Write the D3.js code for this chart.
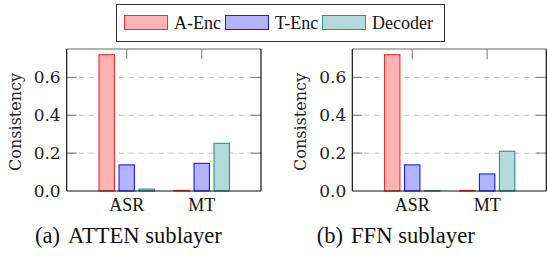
<!DOCTYPE html>
<html>
<head>
<meta charset="utf-8">
<script src="https://cdn.jsdelivr.net/npm/d3@7"></script>
<style>
  html, body { margin: 0; padding: 0; background: #fff; }
  svg { display: block; }
</style>
</head>
<body>
<div id="chart"></div>
<script>
(() => {
  'use strict';

  // ── Data ──
  const categories = ['ASR', 'MT'];
  const seriesNames = ['A-Enc', 'T-Enc', 'Decoder'];
  const attenAEnc    = [0.72, 0.003];
  const attenTEnc    = [0.138, 0.146];
  const attenDecoder = [0.01, 0.252];
  const ffnAEnc      = [0.72, 0.003];
  const ffnTEnc      = [0.138, 0.09];
  const ffnDecoder   = [0.002, 0.21];
  const yTicks = [0, 0.2, 0.4, 0.6];
  const captions = [['(a)', 'ATTEN sublayer'], ['(b)', 'FFN sublayer']];

  const fills   = ['#ffb3b3', '#b3b3ff', '#b3d9d9'];
  const strokes = ['#ff2a2a', '#1a1aff', '#2a9090'];

  const TIMES = "'Liberation Serif', 'Times New Roman', Tinos, serif";
  const CM    = "'DejaVu Serif', 'Bitstream Vera Serif', serif";

  const W = 547, H = 260;
  const svg = d3.select('#chart').append('svg')
    .attr('width', W).attr('height', H);

  // ── Legend ──
  const legend = svg.append('g');
  legend.append('rect')
    .attr('x', 116.5).attr('y', 4.5).attr('width', 328).attr('height', 37)
    .attr('fill', '#fff').attr('stroke', '#333').attr('stroke-width', 1);
  const legendX = [124, 225, 322];
  seriesNames.forEach((name, i) => {
    legend.append('rect')
      .attr('x', legendX[i] + 0.5).attr('y', 15.5).attr('width', 43).attr('height', 14)
      .attr('fill', fills[i]).attr('stroke', strokes[i]).attr('stroke-width', 1);
    legend.append('text')
      .style('font-family', TIMES).style('font-size', '18px').attr('fill', '#111')
      .attr('x', legendX[i] + 50).attr('y', 28.5)
      .text(name);
  });

  // ── Panels ──
  const panels = [
    { x0: 66.7, x1: 261, data: [attenAEnc, attenTEnc, attenDecoder], cap: captions[0], capX: 35 },
    { x0: 352.3, x1: 546.3, data: [ffnAEnc, ffnTEnc, ffnDecoder], cap: captions[1], capX: 316.7 }
  ];
  const top = 49, bottom = 191;

  panels.forEach(p => {
    const g = svg.append('g');
    const x = d3.scaleLinear().domain([-0.8, 1.79]).range([p.x0, p.x1]);
    const y = d3.scaleLinear().domain([0, 0.75]).range([bottom, top]);
    const barW = 15.4, step = 20;

    // gridlines + y ticks
    yTicks.filter(t => t > 0).forEach(t => {
      g.append('line')
        .attr('x1', p.x0).attr('x2', p.x1)
        .attr('y1', y(t)).attr('y2', y(t))
        .attr('stroke', '#bdbdbd').attr('stroke-width', 1)
        .attr('stroke-dasharray', '5 5').attr('stroke-dashoffset', -12);
      g.append('line')
        .attr('x1', p.x0).attr('x2', p.x0 + 10)
        .attr('y1', y(t)).attr('y2', y(t))
        .attr('stroke', '#777').attr('stroke-width', 1);
      g.append('line')
        .attr('x1', p.x1 - 10).attr('x2', p.x1)
        .attr('y1', y(t)).attr('y2', y(t))
        .attr('stroke', '#777').attr('stroke-width', 1);
    });

    // top ticks
    categories.forEach((c, i) => {
      g.append('line')
        .attr('x1', x(i)).attr('x2', x(i))
        .attr('y1', top).attr('y2', top + 10)
        .attr('stroke', '#777').attr('stroke-width', 1);
    });

    // bars
    p.data.forEach((vals, s) => {
      g.selectAll(null)
        .data(vals)
        .join('rect')
        .attr('x', (d, i) => x(i) + (s - 1) * step - barW / 2)
        .attr('y', d => y(d))
        .attr('width', barW)
        .attr('height', d => bottom - y(d))
        .attr('fill', fills[s])
        .attr('stroke', strokes[s])
        .attr('stroke-width', 1.1);
    });

    // frame
    g.append('line').attr('x1', p.x0).attr('x2', p.x1).attr('y1', top).attr('y2', top)
      .attr('stroke', '#666').attr('stroke-width', 1);
    g.append('line').attr('x1', p.x0).attr('x2', p.x0).attr('y1', top).attr('y2', bottom)
      .attr('stroke', '#111').attr('stroke-width', 1.2);
    g.append('line').attr('x1', p.x1).attr('x2', p.x1).attr('y1', top).attr('y2', bottom)
      .attr('stroke', '#111').attr('stroke-width', 1.2);
    g.append('line').attr('x1', p.x0).attr('x2', p.x1).attr('y1', bottom).attr('y2', bottom)
      .attr('stroke', '#111').attr('stroke-width', 1.2);

    // y tick labels
    yTicks.forEach(t => {
      g.append('text')
        .style('font-family', CM).style('font-size', '17px').attr('fill', '#222')
        .attr('x', p.x0 - 6).attr('y', y(t) + 6)
        .attr('text-anchor', 'end')
        .text(d3.format('.1f')(t));
    });

    // y axis label
    g.append('text')
      .style('font-family', CM).style('font-size', '16px').attr('fill', '#222')
      .attr('transform', `translate(${p.x0 - 46},${(top + bottom) / 2 + 2}) rotate(-90)`)
      .attr('text-anchor', 'middle')
      .text('Consistency');

    // category labels
    categories.forEach((c, i) => {
      g.append('text')
        .style('font-family', TIMES).style('font-size', '18px').attr('fill', '#111')
        .attr('x', x(i)).attr('y', 211)
        .attr('text-anchor', 'middle')
        .text(c);
    });

    // caption
    const cap = g.append('text')
      .style('font-family', TIMES).style('font-size', '22.6px').attr('fill', '#111')
      .attr('x', p.capX).attr('y', 243);
    cap.append('tspan').text(p.cap[0]);
    cap.append('tspan').attr('dx', 8).text(p.cap[1]);
  });
})();
</script>
</body>
</html>
